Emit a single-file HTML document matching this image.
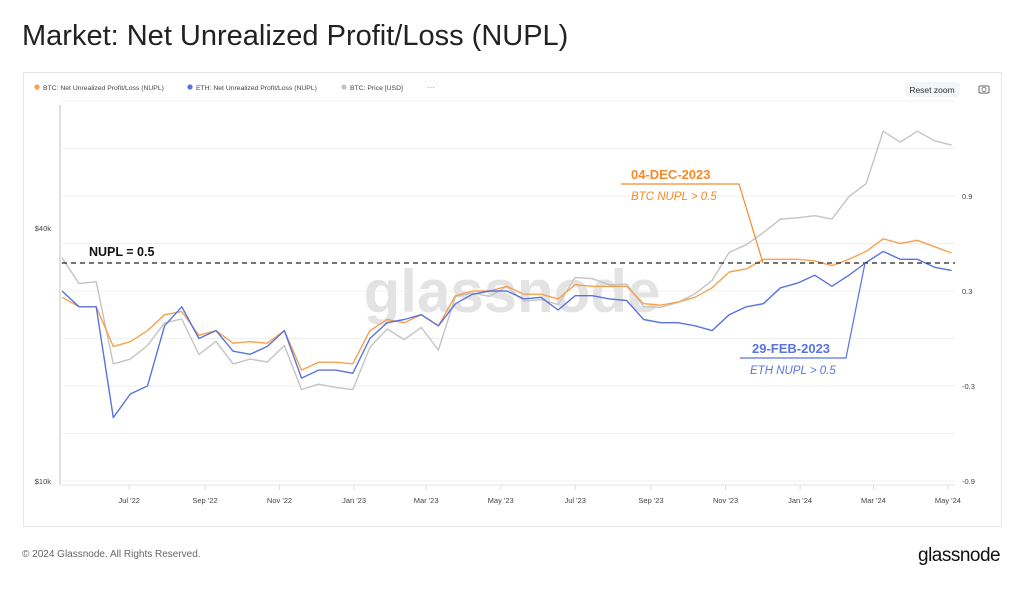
<!DOCTYPE html>
<html><head><meta charset="utf-8">
<style>
body{margin:0;width:1024px;height:589px;background:#fff;font-family:"Liberation Sans",sans-serif;overflow:hidden;position:relative}
#title{position:absolute;left:22px;top:20px;font-size:29px;color:#222;margin:0;font-weight:normal}
#card{position:absolute;left:23px;top:72px;width:979px;height:455px;border:1px solid #e6e6e6;box-sizing:border-box}
#foot{position:absolute;left:22px;top:549px;font-size:10px;color:#666}
#logo{position:absolute;left:918px;top:545px;font-size:19px;color:#111;letter-spacing:-0.5px}
svg{position:absolute;left:0;top:0}
</style></head><body>
<h1 id="title">Market: Net Unrealized Profit/Loss (NUPL)</h1>
<div id="card"></div>
<div id="foot">© 2024 Glassnode. All Rights Reserved.</div>
<div id="logo">glassnode</div>
<svg id="chart" width="1024" height="589"></svg>
<script>
const dayStep = 14;
const btcPrice = [34,29.5,29.8,19,19.5,21,23.8,24.3,20,21.5,19,19.5,19.2,21,16.5,17,16.7,16.5,20.8,23,21.7,23.2,20.5,27.5,28,27.5,29,26.8,27,26.3,30.5,30.3,29.3,29.4,26,25.9,26.6,27.9,30,35,36.5,39,42,42.3,42.8,42,47.5,51,68,64,68,64.5,63];
const btcNupl = [0.26,0.2,0.2,-0.05,-0.02,0.05,0.15,0.17,0.02,0.05,-0.03,-0.02,-0.03,0.05,-0.2,-0.15,-0.15,-0.16,0.05,0.12,0.1,0.15,0.08,0.27,0.3,0.3,0.33,0.28,0.28,0.25,0.34,0.33,0.33,0.33,0.22,0.21,0.23,0.26,0.32,0.42,0.44,0.5,0.5,0.5,0.49,0.46,0.5,0.55,0.63,0.6,0.62,0.58,0.54];
const ethNupl = [0.3,0.2,0.2,-0.5,-0.35,-0.3,0.08,0.2,0.0,0.05,-0.08,-0.1,-0.05,0.05,-0.25,-0.2,-0.2,-0.22,0.0,0.1,0.12,0.15,0.08,0.22,0.28,0.3,0.3,0.25,0.26,0.18,0.27,0.27,0.25,0.24,0.12,0.1,0.1,0.08,0.05,0.15,0.2,0.22,0.32,0.35,0.4,0.33,0.4,0.48,0.55,0.5,0.5,0.45,0.43];
const xTickLabels = ["Jul '22","Sep '22","Nov '22","Jan '23","Mar '23","May '23","Jul '23","Sep '23","Nov '23","Jan '24","Mar '24","May '24"];
const xTickDays = [55,117,178,239,298,359,420,482,543,604,664,725];
const rightTicks = [0.9,0.3,-0.3,-0.9];
const leftTicks = [40,10];

const X = d => 62 + d*1.222;
const YR = v => 291 - (v-0.3)*158.3;
const YL = p => 481 - 253*Math.log(p/10)/Math.log(4);
const svg = document.getElementById('chart');
const NS='http://www.w3.org/2000/svg';
function mk(tag, attrs, parent){const e=document.createElementNS(NS,tag);for(const k in attrs)e.setAttribute(k,attrs[k]);(parent||svg).appendChild(e);return e;}

// legend
const leg=[["#f7a14d","BTC: Net Unrealized Profit/Loss (NUPL)",37],["#5a73e0","ETH: Net Unrealized Profit/Loss (NUPL)",190],["#c4c4c4","BTC: Price [USD]",344]];
leg.forEach(l=>{
 const c=mk('circle',{cx:l[2],cy:87,r:2.6,fill:l[0]});
 
 
 const t=mk('text',{x:l[2]+6,y:90,'font-size':6.8,fill:'#444'});t.textContent=l[1];
 
 
});
const dots=mk('text',{x:427,y:90,'font-size':8,fill:'#888'});dots.textContent='···';


const rzb=mk('rect',{x:905,y:82,width:55,height:15,rx:3,fill:'#f4f5f7'});


const rz=mk('text',{x:932,y:93,'font-size':8.5,fill:'#333','text-anchor':'middle'});rz.textContent='Reset zoom';


const cam=mk('rect',{x:979,y:86,width:10,height:7,rx:1,fill:'none',stroke:'#666','stroke-width':1});


mk('circle',{cx:984,cy:89.5,r:2,fill:'none',stroke:'#666','stroke-width':0.8});

// gridlines
[1.5,1.2,0.9,0.6,0.3,0,-0.3,-0.6,-0.9].forEach(v=>{
 const g=mk('line',{x1:62,x2:955,y1:YR(v),y2:YR(v),stroke:'#f0f0f0','stroke-width':1});
 
 
});
const ax=mk('line',{x1:60,x2:60,y1:105,y2:485,stroke:'#ccc','stroke-width':1.2});


const bx=mk('line',{x1:62,x2:955,y1:485,y2:485,stroke:'#e3e3e3','stroke-width':1});



// watermark
const wm=mk('text',{x:512,y:312,'font-size':60,fill:'#e3e3e3','text-anchor':'middle','font-weight':'bold'});wm.textContent='glassnode';



xTickLabels.forEach((l,i)=>{
 const x=X(xTickDays[i]);
 mk('line',{x1:x,x2:x,y1:485,y2:490,stroke:'#ddd'});
 const t=mk('text',{x:x,y:503,'font-size':7.5,fill:'#444','text-anchor':'middle'});t.textContent=l;
 
 
});
rightTicks.forEach(v=>{
 const t=mk('text',{x:962,y:YR(v)+3,'font-size':7.5,fill:'#444'});t.textContent=v.toFixed(1);
 
 
});
leftTicks.forEach(p=>{
 const t=mk('text',{x:51,y:YL(p)+3,'font-size':7.5,fill:'#444','text-anchor':'end'});t.textContent='$'+p+'k';
 
 
});

function series(arr, yf, color, name){
 const pts=arr.map((v,i)=>X(i*dayStep).toFixed(1)+','+yf(v).toFixed(1)).join(' ');
 const p=mk('polyline',{points:pts,fill:'none',stroke:color,'stroke-width':1.4,'stroke-linejoin':'round'});
 
 
}
series(btcPrice,YL,'#c4c4c4','btc-price-line');
series(btcNupl,YR,'#f7a14d','btc-nupl-line');
series(ethNupl,YR,'#5a73e0','eth-nupl-line');

// threshold
const th=mk('line',{x1:62,x2:955,y1:263,y2:263,stroke:'#222','stroke-width':1.2,'stroke-dasharray':'5,4'});


const tl=mk('text',{x:89,y:256,'font-size':12.5,'font-weight':'bold',fill:'#111'});tl.textContent='NUPL = 0.5';



// annotations
const a1=mk('polyline',{points:'621,184 739,184 763,263',fill:'none',stroke:'#f58a2b','stroke-width':1.2});


const t1=mk('text',{x:631,y:179,'font-size':13,'font-weight':'bold',fill:'#f58a2b'});t1.textContent='04-DEC-2023';


const t2=mk('text',{x:631,y:200,'font-size':11.5,'font-style':'italic',fill:'#f58a2b'});t2.textContent='BTC NUPL > 0.5';


const a2=mk('polyline',{points:'740,358 846,358 865,263',fill:'none',stroke:'#5a73e0','stroke-width':1.2});


const t3=mk('text',{x:752,y:353,'font-size':13,'font-weight':'bold',fill:'#5a73e0'});t3.textContent='29-FEB-2023';


const t4=mk('text',{x:750,y:374,'font-size':11.5,'font-style':'italic',fill:'#5a73e0'});t4.textContent='ETH NUPL > 0.5';


</script>
</body></html>
